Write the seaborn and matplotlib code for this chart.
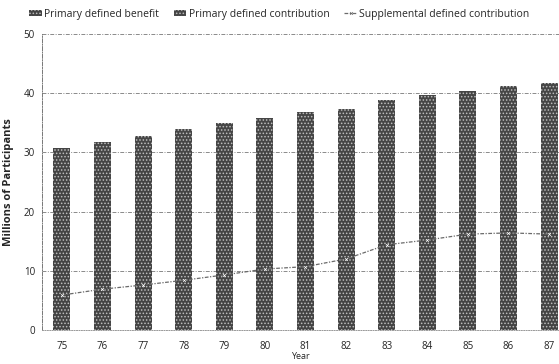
import matplotlib
matplotlib.use("Agg")
import matplotlib.pyplot as plt
import seaborn as sns
import pandas as pd
from matplotlib.patches import Patch
from matplotlib.lines import Line2D

years = ["75", "76", "77", "78", "79", "80", "81", "82", "83", "84", "85", "86", "87"]
primary_db = [27.2, 27.6, 28.1, 28.6, 29.1, 30.1, 29.8, 29.1, 29.4, 29.9, 29.2, 28.8, 28.4]
primary_total = [30.7, 31.7, 32.8, 34.0, 34.9, 35.8, 36.9, 37.4, 38.9, 39.7, 40.4, 41.3, 41.8]
primary_dc = [round(t - b, 1) for t, b in zip(primary_total, primary_db)]
supplemental_dc = [5.9, 6.9, 7.6, 8.4, 9.3, 10.3, 10.7, 12.0, 14.4, 15.2, 16.2, 16.4, 16.2]

df = pd.DataFrame({
    "Year": years,
    "DB": primary_db,
    "DC": primary_dc,
    "Total": [b + c for b, c in zip(primary_db, primary_dc)],
    "Supp": supplemental_dc,
})

sns.set_theme(style="white")
plt.rcParams["font.family"] = ["Open Sans", "DejaVu Sans"]
plt.rcParams["hatch.linewidth"] = 0.7

DB_COL = "#434343"
DC_COL = "#454545"
HATCH_COL = "#bdbdbd"
HATCH = "....."

fig = plt.figure(figsize=(5.59, 3.64), dpi=100)
ax = fig.add_axes([42 / 559, (364 - 330) / 364, (559 - 42) / 559, (330 - 34) / 364])

# stacked bars: total (DC on top) drawn first, DB overlaid
sns.barplot(data=df, x="Year", y="Total", color=DC_COL, width=0.42, ax=ax,
            saturation=1, hatch=HATCH, edgecolor=HATCH_COL, linewidth=0)
sns.barplot(data=df, x="Year", y="DB", color=DB_COL, width=0.42, ax=ax,
            saturation=1, hatch=HATCH, edgecolor=HATCH_COL, linewidth=0)
sns.lineplot(data=df, x="Year", y="Supp", ax=ax, color="#6a6a6a", linewidth=0.9,
             linestyle=(0, (3, 1.2, 1, 1.2)), marker="x", markersize=2, markeredgewidth=0.5,
             sort=False)

ax.set_xlim(-0.49, (559 - 42) / 40.6 - 0.49)
ax.set_ylim(0, 50)
ax.set_yticks([0, 10, 20, 30, 40, 50])
ax.yaxis.grid(True, color="#8a8a8a", linestyle=(0, (4, 1.5, 1, 1.5)), linewidth=0.7)
ax.set_axisbelow(True)
for s in ["top", "right"]:
    ax.spines[s].set_visible(False)
ax.spines["left"].set_color("#777777")
ax.spines["left"].set_linestyle((0, (4, 1.5, 1, 1.5)))
ax.spines["left"].set_linewidth(0.7)
ax.spines["bottom"].set_color("#999999")
ax.spines["bottom"].set_linestyle((0, (1, 1.5)))
ax.spines["bottom"].set_linewidth(0.7)

ax.tick_params(axis="both", labelsize=7, colors="#222222", length=0, pad=5)
ax.tick_params(axis="x", pad=8)
ax.set_xlabel("Year", fontsize=6.5)
ax.xaxis.set_label_coords(0.5, (330 - 352) / 296)
ax.set_ylabel("Millions of Participants", fontsize=8, fontweight="bold", labelpad=7)

handles = [
    Patch(facecolor=DB_COL, hatch=HATCH, edgecolor=HATCH_COL, linewidth=0),
    Patch(facecolor=DC_COL, hatch=HATCH, edgecolor=HATCH_COL, linewidth=0),
    Line2D([0], [0], color="#6a6a6a", linewidth=0.9, linestyle=(0, (3, 1.2, 1, 1.2)),
           marker="x", markersize=2, markeredgewidth=0.5),
]
labels = ["Primary defined benefit", "Primary defined contribution",
          "Supplemental defined contribution"]
fig.legend(handles, labels, loc="center", bbox_to_anchor=(0.5, 1 - 14 / 364), ncol=3,
           frameon=False, fontsize=7.5, handlelength=1.2, handleheight=0.6,
           handletextpad=0.25, columnspacing=1.4, borderaxespad=0)

fig.savefig("out.png", dpi=100)
